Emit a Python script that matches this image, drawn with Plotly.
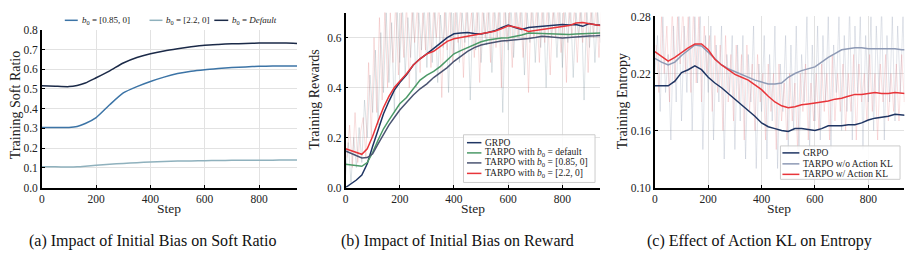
import plotly.graph_objects as go

W, H = 911, 260
FONT = "'Liberation Serif', 'Times New Roman', Times, serif"

# ---------------- Panel (a) data ----------------
steps_a = [0, 50, 100, 130, 160, 200, 250, 300, 350, 400, 450, 500, 550, 600, 650, 700, 750, 800, 850, 900, 940]
soft_085 = [0.305, 0.304, 0.305, 0.31, 0.325, 0.355, 0.42, 0.48, 0.512, 0.538, 0.560, 0.578, 0.590, 0.598, 0.604, 0.609, 0.612, 0.615, 0.616, 0.617, 0.617]
soft_22 = [0.105, 0.105, 0.104, 0.105, 0.108, 0.113, 0.118, 0.122, 0.126, 0.13, 0.132, 0.134, 0.135, 0.136, 0.137, 0.138, 0.138, 0.139, 0.139, 0.14, 0.14]
soft_def = [0.517, 0.514, 0.512, 0.518, 0.530, 0.557, 0.592, 0.632, 0.660, 0.679, 0.693, 0.704, 0.714, 0.722, 0.726, 0.729, 0.731, 0.733, 0.733, 0.733, 0.731]

# ---------------- Panel (b) data ----------------
steps_b = [0, 20, 40, 60, 80, 100, 120, 140, 160, 180, 200, 225, 250, 275, 300, 325, 350, 375, 400, 425,
           450, 475, 500, 525, 550, 575, 600, 625, 650, 675, 700, 725, 750, 775, 800, 825, 850, 875, 900, 925, 940]
rew_grpo = [0.0, 0.015, 0.03, 0.05, 0.095, 0.165, 0.235, 0.295, 0.345, 0.39, 0.42, 0.451, 0.49, 0.515, 0.535, 0.558,
            0.578, 0.60, 0.615, 0.618, 0.62, 0.616, 0.614, 0.62, 0.627, 0.64, 0.65, 0.64, 0.632, 0.64, 0.642, 0.643,
            0.645, 0.648, 0.652, 0.65, 0.652, 0.645, 0.656, 0.65, 0.65]
rew_def = [0.093, 0.09, 0.087, 0.085, 0.1, 0.14, 0.19, 0.235, 0.27, 0.305, 0.335, 0.36, 0.395, 0.43, 0.45, 0.465,
           0.485, 0.51, 0.535, 0.548, 0.56, 0.574, 0.583, 0.59, 0.595, 0.598, 0.599, 0.603, 0.61, 0.618, 0.617, 0.615,
           0.614, 0.616, 0.613, 0.612, 0.614, 0.615, 0.616, 0.618, 0.618]
rew_085 = [0.146, 0.137, 0.125, 0.118, 0.12, 0.135, 0.175, 0.215, 0.25, 0.28, 0.31, 0.34, 0.37, 0.395, 0.415, 0.44,
           0.46, 0.48, 0.505, 0.525, 0.545, 0.56, 0.57, 0.576, 0.582, 0.586, 0.588, 0.59, 0.593, 0.596, 0.6, 0.605,
           0.603, 0.6, 0.598, 0.6, 0.603, 0.604, 0.606, 0.607, 0.608]
rew_22 = [0.155, 0.148, 0.14, 0.133, 0.155, 0.205, 0.265, 0.32, 0.365, 0.40, 0.425, 0.455, 0.49, 0.515, 0.535, 0.545,
          0.565, 0.585, 0.595, 0.60, 0.603, 0.61, 0.612, 0.618, 0.625, 0.635, 0.647, 0.642, 0.635, 0.624, 0.628, 0.633,
          0.637, 0.641, 0.645, 0.648, 0.658, 0.66, 0.655, 0.652, 0.648]

# raw (unsmoothed) rewards, read every 10 steps
raw_steps = list(range(0, 950, 10))
raw_rew_gray = [0.05, 0.18, 0.02, 0.2, 0.08, 0.24,
                0.1, 0.35, 0.2, 0.45, 0.3,
                0.55, 0.25, 0.62, 0.38, 0.7, 0.42, 0.66, 0.3, 0.72, 0.5,
                0.72, 0.45, 0.68, 0.52, 0.74, 0.4, 0.7, 0.55, 0.73, 0.48,
                0.71, 0.5, 0.74, 0.42, 0.69, 0.56, 0.73, 0.38, 0.72, 0.53,
                0.74, 0.5, 0.7, 0.58, 0.73, 0.35, 0.72, 0.55, 0.74, 0.5,
                0.7, 0.57, 0.74, 0.46, 0.72, 0.6, 0.73, 0.3, 0.71, 0.55,
                0.74, 0.52, 0.72, 0.6, 0.73, 0.45, 0.7, 0.58, 0.74, 0.5,
                0.72, 0.56, 0.74, 0.4, 0.71, 0.6, 0.73, 0.52, 0.74, 0.48,
                0.72, 0.58, 0.74, 0.44, 0.7, 0.6, 0.73, 0.35, 0.72, 0.56,
                0.74, 0.5, 0.71, 0.58]
raw_rew_red = [0.12, 0.25, 0.08, 0.3, 0.1, 0.22,
               0.28, 0.12, 0.5, 0.2, 0.6,
               0.3, 0.68, 0.35, 0.72, 0.4, 0.7, 0.5, 0.74, 0.45, 0.7,
               0.52, 0.74, 0.4, 0.72, 0.58, 0.73, 0.46, 0.7, 0.55, 0.74,
               0.48, 0.72, 0.6, 0.74, 0.36, 0.71, 0.55, 0.74, 0.5, 0.72,
               0.58, 0.73, 0.44, 0.74, 0.6, 0.7, 0.52, 0.74, 0.42, 0.72,
               0.6, 0.74, 0.5, 0.73, 0.56, 0.72, 0.4, 0.74, 0.58, 0.71,
               0.48, 0.74, 0.6, 0.72, 0.52, 0.74, 0.38, 0.73, 0.6, 0.72,
               0.5, 0.74, 0.58, 0.73, 0.45, 0.72, 0.6, 0.74, 0.54, 0.71,
               0.42, 0.74, 0.6, 0.72, 0.5, 0.73, 0.58, 0.74, 0.46, 0.72,
               0.6, 0.74, 0.52, 0.73]

# ---------------- Panel (c) data ----------------
steps_c = list(range(0, 950, 25))[:38] + [940]
ent_grpo = [0.207, 0.207, 0.207, 0.212, 0.221, 0.224, 0.228, 0.224, 0.216, 0.21, 0.205, 0.199, 0.193, 0.187, 0.182,
            0.175, 0.168, 0.164, 0.162, 0.16, 0.159, 0.162, 0.162, 0.161, 0.16, 0.162, 0.165, 0.165, 0.165, 0.166,
            0.166, 0.168, 0.171, 0.173, 0.174, 0.175, 0.177, 0.176, 0.176]
ent_nokl = [0.236, 0.232, 0.229, 0.232, 0.239, 0.245, 0.25, 0.249, 0.242, 0.236, 0.229, 0.225, 0.222, 0.219, 0.216,
            0.213, 0.211, 0.209, 0.209, 0.21, 0.216, 0.22, 0.223, 0.225, 0.227, 0.232, 0.237, 0.241, 0.245, 0.246,
            0.247, 0.247, 0.246, 0.246, 0.246, 0.246, 0.246, 0.245, 0.245]
ent_kl = [0.243, 0.238, 0.233, 0.237, 0.242, 0.247, 0.251, 0.251, 0.245, 0.235, 0.229, 0.224, 0.219, 0.216, 0.213,
          0.208, 0.203, 0.196, 0.19, 0.186, 0.184, 0.185, 0.187, 0.188, 0.189, 0.19, 0.191, 0.193, 0.194, 0.196,
          0.198, 0.198, 0.199, 0.2, 0.199, 0.199, 0.2, 0.199, 0.199]
raw_ent_gray = [0.22, 0.26, 0.18, 0.28, 0.2, 0.24, 0.15, 0.27, 0.19, 0.29, 0.17,
                0.27, 0.2, 0.29, 0.16, 0.28, 0.21, 0.29, 0.14, 0.26, 0.2,
                0.27, 0.15, 0.25, 0.19, 0.27, 0.13, 0.24, 0.2, 0.26, 0.14,
                0.25, 0.17, 0.26, 0.13, 0.24, 0.19, 0.27, 0.12, 0.23, 0.18,
                0.26, 0.13, 0.24, 0.17, 0.27, 0.12, 0.23, 0.18, 0.26, 0.14,
                0.25, 0.16, 0.27, 0.13, 0.24, 0.19, 0.28, 0.14, 0.25, 0.17,
                0.27, 0.15, 0.26, 0.19, 0.28, 0.14, 0.25, 0.2, 0.28, 0.16,
                0.26, 0.18, 0.29, 0.15, 0.27, 0.2, 0.28, 0.14, 0.26, 0.19,
                0.28, 0.16, 0.27, 0.2, 0.29, 0.15, 0.26, 0.19, 0.28, 0.17,
                0.27, 0.2, 0.28, 0.18]
raw_ent_red = [0.25, 0.2, 0.28, 0.22, 0.27, 0.19, 0.29, 0.21, 0.28, 0.23, 0.29,
               0.22, 0.28, 0.2, 0.29, 0.21, 0.28, 0.19, 0.27, 0.22, 0.26,
               0.18, 0.26, 0.2, 0.25, 0.16, 0.26, 0.19, 0.24, 0.17, 0.25,
               0.19, 0.24, 0.15, 0.25, 0.18, 0.23, 0.16, 0.24, 0.19, 0.22,
               0.15, 0.23, 0.18, 0.22, 0.14, 0.23, 0.17, 0.21, 0.15, 0.22,
               0.17, 0.21, 0.14, 0.22, 0.18, 0.23, 0.15, 0.21, 0.17, 0.22,
               0.16, 0.23, 0.18, 0.22, 0.15, 0.24, 0.17, 0.22, 0.18, 0.23,
               0.16, 0.22, 0.18, 0.24, 0.15, 0.23, 0.19, 0.22, 0.17, 0.24,
               0.18, 0.22, 0.15, 0.23, 0.19, 0.24, 0.17, 0.22, 0.18, 0.23,
               0.17, 0.24, 0.19, 0.22]

B0 = "<i>b</i><sub>0</sub>"
LBL_A = [B0 + " = [0.85, 0]", B0 + " = [2.2, 0]", B0 + " = <i>Default</i>"]
LBL_B = ["GRPO", "TARPO with " + B0 + " = default", "TARPO with " + B0 + " = [0.85, 0]", "TARPO with " + B0 + " = [2.2, 0]"]
LBL_C = ["GRPO", "TARPO w/o Action KL", "TARPO w/ Action KL"]

# colours
C_A_DEF, C_A_085, C_A_22 = "#1b2a48", "#3c74a6", "#8fb1bd"
C_NAVY, C_GREEN, C_SLATE, C_RED = "#1f3563", "#4c9a68", "#4b5472", "#e8353a"
C_GRAYBLUE = "#8e9ab5"


def px_x(p):
    return p / W


def px_y(p):
    return (H - p) / H


fig = go.Figure()

# ---- panel a ----
for ys, col in [(soft_085, C_A_085), (soft_22, C_A_22), (soft_def, C_A_DEF)]:
    fig.add_trace(go.Scatter(x=steps_a, y=ys, mode="lines",
                             line=dict(color=col, width=1.5, shape="spline", smoothing=0.6),
                             showlegend=False, xaxis="x", yaxis="y"))

# ---- panel b ----
fig.add_trace(go.Scatter(x=raw_steps, y=raw_rew_gray, mode="lines", line=dict(color="rgba(120,145,155,0.25)", width=1),
                         showlegend=False, hoverinfo="skip", xaxis="x2", yaxis="y2"))
fig.add_trace(go.Scatter(x=[s + 5 for s in raw_steps], y=raw_rew_red, mode="lines", line=dict(color="rgba(225,110,110,0.22)", width=1),
                         showlegend=False, hoverinfo="skip", xaxis="x2", yaxis="y2"))
for ys, col in [(rew_grpo, C_NAVY), (rew_def, C_GREEN), (rew_085, C_SLATE), (rew_22, C_RED)]:
    fig.add_trace(go.Scatter(x=steps_b, y=ys, mode="lines", line=dict(color=col, width=1.5),
                             showlegend=False, xaxis="x2", yaxis="y2"))

# ---- panel c ----
fig.add_trace(go.Scatter(x=raw_steps, y=raw_ent_gray, mode="lines", line=dict(color="rgba(140,150,175,0.25)", width=1),
                         showlegend=False, hoverinfo="skip", xaxis="x3", yaxis="y3"))
fig.add_trace(go.Scatter(x=[s + 5 for s in raw_steps], y=raw_ent_red, mode="lines", line=dict(color="rgba(230,120,125,0.22)", width=1),
                         showlegend=False, hoverinfo="skip", xaxis="x3", yaxis="y3"))
for ys, col in [(ent_grpo, C_NAVY), (ent_nokl, C_GRAYBLUE), (ent_kl, C_RED)]:
    fig.add_trace(go.Scatter(x=steps_c, y=ys, mode="lines", line=dict(color=col, width=1.5),
                             showlegend=False, xaxis="x3", yaxis="y3"))

axis_common = dict(showline=True, linecolor="black", linewidth=1.5, ticks="inside", ticklen=3,
                   tickcolor="black", tickfont=dict(family=FONT, size=11.5, color="#222"),
                   gridcolor="#e2e2e2", gridwidth=1, zeroline=False, mirror=False)

bottom = px_y(190.3)
fig.update_layout(
    width=W, height=H, margin=dict(l=0, r=0, t=0, b=0),
    paper_bgcolor="white", plot_bgcolor="white", showlegend=False,
    font=dict(family=FONT, color="#222"),
    xaxis=dict(domain=[px_x(39), px_x(295)], range=[0, 940], tickvals=[0, 200, 400, 600, 800], anchor="y", **axis_common),
    yaxis=dict(domain=[bottom, px_y(25)], range=[0, 0.8], dtick=0.1, tickformat=".1f", anchor="x", **axis_common),
    xaxis2=dict(domain=[px_x(343.7), px_x(599.3)], range=[0, 940], tickvals=[0, 200, 400, 600, 800], anchor="y2", **axis_common),
    yaxis2=dict(domain=[bottom, px_y(6.9)], range=[0, 0.7], tickvals=[0, 0.2, 0.4, 0.6], tickformat=".1f", anchor="x2", **axis_common),
    xaxis3=dict(domain=[px_x(654), px_x(904.3)], range=[0, 935], tickvals=[0, 200, 400, 600, 800], anchor="y3", **axis_common),
    yaxis3=dict(domain=[bottom, px_y(11)], range=[0.10, 0.28], tickvals=[0.10, 0.16, 0.22, 0.28], tickformat=".2f", anchor="x3", **axis_common),
)

ann = []
shapes = []


def legend_entry(color, text, x0, x1, xt, yc, size):
    shapes.append(dict(type="line", xref="paper", yref="paper", x0=px_x(x0), x1=px_x(x1), y0=px_y(yc), y1=px_y(yc),
                       line=dict(color=color, width=1.5)))
    ann.append(dict(text=text, x=px_x(xt), y=px_y(yc), xref="paper", yref="paper", showarrow=False,
                    xanchor="left", yanchor="middle", font=dict(family=FONT, size=size, color="#222")))


# legend (a): horizontal above the plot
for col, txt, x0, x1, xt in zip([C_A_085, C_A_22, C_A_DEF], LBL_A, [62, 147, 212], [75, 160, 226], [77, 162, 228]):
    legend_entry(col, txt, x0, x1, xt, 15, 9)

# legend (b)
shapes.append(dict(type="rect", xref="paper", yref="paper", x0=px_x(462), x1=px_x(594), y0=px_y(185), y1=px_y(135),
                   line=dict(color="#cccccc", width=1), fillcolor="rgba(255,255,255,0.85)"))
for col, txt, yc in zip([C_NAVY, C_GREEN, C_SLATE, C_RED], LBL_B, [143.3, 154, 164.5, 175.5]):
    legend_entry(col, txt, 465.5, 480, 482, yc, 9.5)

# legend (c)
shapes.append(dict(type="rect", xref="paper", yref="paper", x0=px_x(780), x1=px_x(900), y0=px_y(181.7), y1=px_y(146.7),
                   line=dict(color="#cccccc", width=1), fillcolor="rgba(255,255,255,0.85)"))
for col, txt, yc in zip([C_NAVY, C_GRAYBLUE, C_RED], LBL_C, [154, 165.5, 176.5]):
    legend_entry(col, txt, 782, 799, 801, yc, 9.5)

for cx in [167, 471.5, 779]:
    ann.append(dict(text="Step", x=px_x(cx), y=px_y(212), xref="paper", yref="paper", showarrow=False,
                    font=dict(family=FONT, size=13.5, color="#222"), xanchor="center", yanchor="middle"))
for cx, cy, t in [(12, 104, "Training Soft Ratio"), (313, 98, "Training Rewards"), (621, 100, "Training Entropy")]:
    ann.append(dict(text=t, x=px_x(cx), y=px_y(cy), xref="paper", yref="paper", showarrow=False, textangle=-90,
                    font=dict(family=FONT, size=14, color="#222"), xanchor="center", yanchor="middle"))
for cx, t in [(150, "(a) Impact of Initial Bias on Soft Ratio"), (455.5, "(b) Impact of Initial Bias on Reward"),
              (759.5, "(c) Effect of Action KL on Entropy")]:
    ann.append(dict(text=t, x=px_x(cx), y=px_y(246), xref="paper", yref="paper", showarrow=False,
                    font=dict(family=FONT, size=16, color="#111"), xanchor="center", yanchor="middle"))
fig.update_layout(annotations=ann, shapes=shapes)

fig.write_html("out.html")
